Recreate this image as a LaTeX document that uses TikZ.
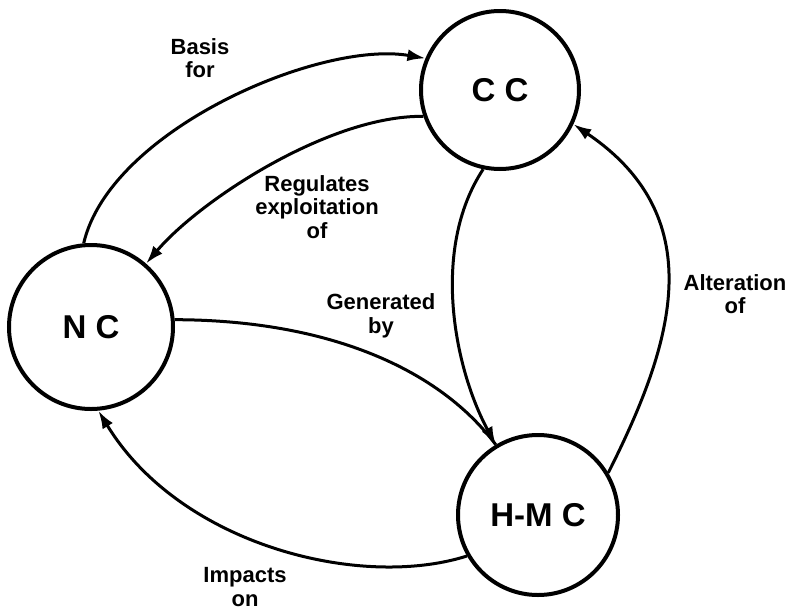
\documentclass[tikz,border=0pt]{standalone}
\usepackage{fontspec}
\setmainfont{Liberation Sans}
\usetikzlibrary{arrows.meta}
\begin{document}
\begin{tikzpicture}[x=1pt,y=-1pt,
  state/.style={draw, circle, line width=4pt, inner sep=0pt, font=\fontsize{33}{36}\selectfont\bfseries},
  lbl/.style={inner sep=0pt, align=center, font=\fontsize{22}{23.5}\selectfont\bfseries},
  link/.style={line width=3pt, -{Latex[length=18pt,width=12pt]}},
  plain/.style={line width=3pt},
]
\useasboundingbox (0,0) rectangle (790,611);
\node[state, minimum size=158pt] (cc)  at (500,90)  {C C};
\node[state, minimum size=164pt] (nc)  at (91,327)  {N C};
\node[state, minimum size=160pt] (hmc) at (538,515) {H-M C};

\draw[link] (nc.95) .. controls (110,130) and (320,40) .. (cc.157);
\draw[link] (cc.199) .. controls (330,115) and (200,200) .. (nc.49);
\draw[plain] (nc.5) .. controls (330,320) and (440,370) .. (hmc.121);
\draw[link] (cc.258) .. controls (430,250) and (455,370) .. (hmc.121);
\draw[link] (hmc.31) .. controls (670,350) and (715,220) .. (cc.335);
\draw[link] (hmc.210) .. controls (360,590) and (180,545) .. (nc.275);

\node[lbl] (l1) at (200,58)  {Basis\\for};
\node[lbl] (l2) at (317,207) {Regulates\\exploitation\\of};
\node[lbl] (l3) at (381,316) {Generated\\by};
\node[lbl] (l4) at (735,294) {Alteration\\of};
\node[lbl] (l5) at (245,587) {Impacts\\on};
\end{tikzpicture}
\end{document}
